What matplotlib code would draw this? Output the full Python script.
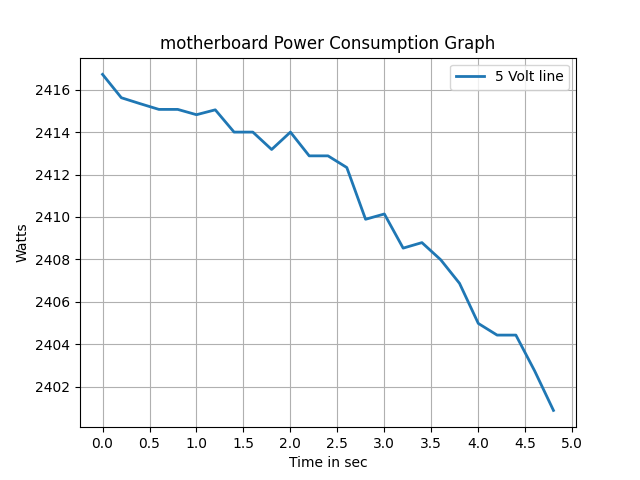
import numpy as np
import matplotlib
matplotlib.use("Agg")
import matplotlib.pyplot as plt

# readings every 0.2 s
time_sec = [0.0, 0.2, 0.4, 0.6, 0.8, 1.0, 1.2, 1.4, 1.6, 1.8, 2.0, 2.2, 2.4,
            2.6, 2.8, 3.0, 3.2, 3.4, 3.6, 3.8, 4.0, 4.2, 4.4, 4.6, 4.8]
watts_5v = [2416.72, 2415.62, 2415.34, 2415.07, 2415.07, 2414.82, 2415.05,
            2414.0, 2414.0, 2413.18, 2414.0, 2412.88, 2412.88, 2412.33,
            2409.89, 2410.14, 2408.53, 2408.79, 2407.98, 2406.87, 2404.98,
            2404.43, 2404.43, 2402.74, 2400.88]

fig, ax = plt.subplots(figsize=(6.4, 4.8), dpi=100)
ax.plot(time_sec, watts_5v, linewidth=2, label='5 Volt line')
ax.set_xticks(np.arange(0, 5.01, 0.5))
ax.set_xlabel('Time in sec')
ax.set_ylabel('Watts')
ax.set_title('motherboard Power Consumption Graph')
ax.grid(True)
ax.legend(loc='upper right')

plt.savefig('out.png', dpi=100)
